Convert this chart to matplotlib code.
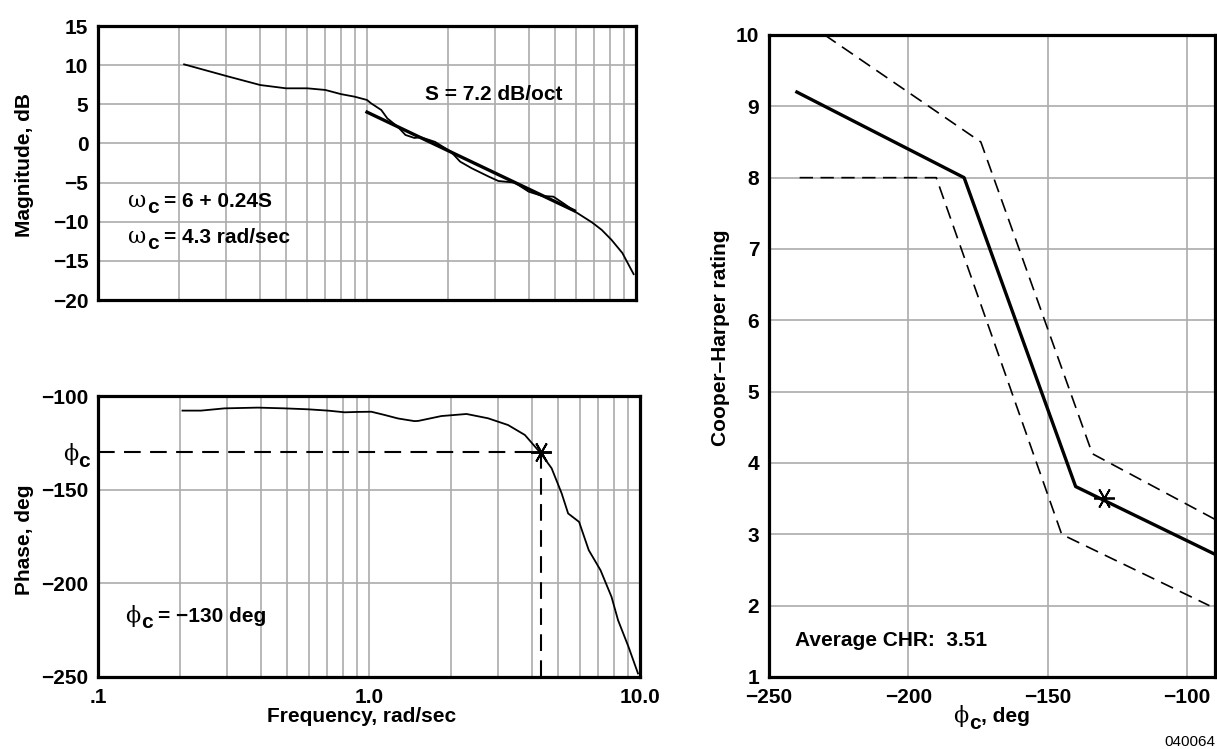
import matplotlib
matplotlib.use('Agg')
import matplotlib.pyplot as plt
from matplotlib.ticker import FixedLocator, FixedFormatter, NullFormatter

plt.rcParams['font.family'] = ['Liberation Sans', 'DejaVu Sans']
plt.rcParams['font.weight'] = 'bold'
plt.rcParams['font.size'] = 15

# ---------------- data ----------------
mag_freq = [0.209, 0.301, 0.401, 0.50, 0.60, 0.70, 0.80, 0.90, 1.0, 1.035, 1.13,
            1.19, 1.30, 1.39, 1.50, 1.59, 1.79, 2.05, 2.22, 2.45, 2.84, 3.08,
            3.54, 3.99, 4.47, 4.93, 5.4, 5.93, 6.87, 7.46, 8.1, 8.9, 9.8]
mag_db = [10.1, 8.6, 7.46, 7.04, 7.04, 6.83, 6.3, 5.97, 5.55, 5.13, 4.27,
          3.2, 2.14, 1.08, 0.7, 0.78, 0.2, -1.05, -2.33, -3.17, -4.25, -4.8,
          -5.0, -6.16, -6.7, -6.8, -7.7, -8.7, -10.1, -11.05, -12.3, -14.0, -16.7]
fit_freq = [1.0, 5.9]
fit_db = [4.0, -8.6]

phase_freq = [0.205, 0.24, 0.293, 0.389, 0.488, 0.595, 0.705, 0.813, 0.91, 1.02,
              1.14, 1.28, 1.47, 1.52, 1.85, 2.29, 2.75, 3.26, 3.76, 4.3, 4.72,
              5.14, 5.43, 5.96, 6.47, 7.15, 7.85, 8.3, 9.07, 9.83]
phase_deg = [-107.8, -107.8, -106.6, -106.2, -106.6, -107.1, -107.8, -108.7, -108.5,
             -108.4, -110.1, -112.0, -113.4, -113.3, -110.7, -109.6, -111.9, -115.5,
             -120.8, -130.5, -138.6, -152.0, -162.7, -167.2, -182.3, -193.0, -207.2,
             -219.7, -233.9, -248.1]
wc = 4.3
phic = -130

chr_mean_phase = [-240, -180, -140, -90]
chr_mean = [9.2, 8.0, 3.67, 2.72]
chr_upper_phase = [-230, -174, -134, -90]
chr_upper = [10.0, 8.5, 4.13, 3.21]
chr_lower_phase = [-239, -190, -145, -92]
chr_lower = [8.0, 8.0, 3.0, 2.0]
avg_phase = -130
avg_chr = 3.51

PHI = '\u03d5'
OMG = '\u03c9'

mag_ticks = [15, 10, 5, 0, -5, -10, -15, -20]
phase_ticks = [-100, phic, -150, -200, -250]
phase_ticklabels = ['\u2212100', '', '\u2212150', '\u2212200', '\u2212250']
freq_ticks = [0.1, 1.0, 10.0]
freq_ticklabels = ['.1', '1.0', '10.0']
freq_grid = [0.2, 0.3, 0.4, 0.5, 0.6, 0.7, 0.8, 0.9, 1.0, 2, 3, 4, 5, 6, 7, 8, 9]
chr_xticks = [-250, -200, -150, -100]
chr_yticks = [1, 2, 3, 4, 5, 6, 7, 8, 9, 10]

# ---------------- figure ----------------
W, H = 1217, 749
fig = plt.figure(figsize=(W / 100, H / 100), dpi=100)
renderer = fig.canvas.get_renderer()


def rect(l, t, r, b):
    return [l / W, 1 - b / H, (r - l) / W, (b - t) / H]


def fp(x, y):
    return (x / W, 1 - y / H)


GRID = '#acacac'
SPW = 2.3
DASH = (0, (8, 4.5))
GREEK = dict(family='DejaVu Serif', weight='normal', size=16)
SUB = dict(weight='bold', size=15)


def style(ax):
    for s in ax.spines.values():
        s.set_linewidth(SPW)
        s.set_zorder(5)
    ax.tick_params(which='both', length=0)
    ax.tick_params(axis='y', pad=7)
    ax.tick_params(axis='x', pad=8)


def minus(v):
    return str(v).replace('-', '\u2212')


def compose(x, y, greek, rest, ha='left', sub_dy=6, gap=0.5, after=0):
    """Greek letter + lowered bold 'c' + remaining text, baseline at pixel y."""
    parts = [(greek, GREEK, 0, gap), ('c', SUB, sub_dy, after)]
    if rest:
        parts.append((rest, {}, 0, 0))
    objs = []
    cur = 0.0
    for s, kw, dy, g in parts:
        t = fig.text(0, 0, s, va='baseline', ha='left', **kw)
        w = t.get_window_extent(renderer).width
        objs.append((t, cur, dy))
        cur += w + g
    total = cur
    x0 = x if ha == 'left' else (x - total if ha == 'right' else x - total / 2)
    for t, off, dy in objs:
        t.set_position(fp(x0 + off, y + dy))


# Magnitude
ax1 = fig.add_axes(rect(98, 26, 636, 300))
ax1.set_xscale('log')
ax1.set_xlim(0.1, 10)
ax1.set_ylim(-20, 15)
ax1.xaxis.set_major_locator(FixedLocator(freq_grid))
ax1.xaxis.set_minor_locator(FixedLocator([]))
ax1.xaxis.set_major_formatter(NullFormatter())
ax1.yaxis.set_major_locator(FixedLocator(mag_ticks))
ax1.yaxis.set_major_formatter(FixedFormatter([minus(v) for v in mag_ticks]))
ax1.grid(True, color=GRID, lw=1.2)
ax1.set_axisbelow(True)
style(ax1)
ax1.plot(mag_freq, mag_db, color='black', lw=1.3)
ax1.plot(fit_freq, fit_db, color='black', lw=2.4)

# Phase
ax2 = fig.add_axes(rect(98, 396, 640, 677))
ax2.set_xscale('log')
ax2.set_xlim(0.1, 10)
ax2.set_ylim(-250, -100)
ax2.xaxis.set_major_locator(FixedLocator(freq_ticks))
ax2.xaxis.set_major_formatter(FixedFormatter(freq_ticklabels))
ax2.xaxis.set_minor_locator(FixedLocator(freq_grid))
ax2.xaxis.set_minor_formatter(NullFormatter())
ax2.yaxis.set_major_locator(FixedLocator(phase_ticks))
ax2.yaxis.set_major_formatter(FixedFormatter(phase_ticklabels))
ax2.grid(True, which='minor', axis='x', color=GRID, lw=1.2)
ax2.grid(True, which='major', axis='x', color=GRID, lw=1.2)
for v in [-150, -200]:
    ax2.axhline(v, color=GRID, lw=1.2, zorder=0)
ax2.set_axisbelow(True)
style(ax2)
ax2.plot(phase_freq, phase_deg, color='black', lw=1.3)
ax2.plot([0.1, wc], [phic, phic], color='black', lw=1.5, linestyle=DASH)
ax2.plot([wc, wc], [phic, -250], color='black', lw=1.5, linestyle=DASH)
ax2.plot([wc], [phic], marker=(6, 2, 90), ms=15, mew=1.4, color='black')

# Cooper-Harper
ax3 = fig.add_axes(rect(769, 35, 1215, 677))
ax3.set_xlim(-250, -90)
ax3.set_ylim(1, 10)
ax3.xaxis.set_major_locator(FixedLocator(chr_xticks))
ax3.xaxis.set_major_formatter(FixedFormatter([minus(v) for v in chr_xticks]))
ax3.yaxis.set_major_locator(FixedLocator(chr_yticks))
ax3.yaxis.set_major_formatter(FixedFormatter([str(v) for v in chr_yticks]))
ax3.grid(True, color=GRID, lw=1.2)
ax3.set_axisbelow(True)
style(ax3)
ax3.plot(chr_mean_phase, chr_mean, color='black', lw=2.4)
ax3.plot(chr_upper_phase, chr_upper, color='black', lw=1.2, linestyle=DASH)
ax3.plot(chr_lower_phase, chr_lower, color='black', lw=1.2, linestyle=DASH)
ax3.plot([avg_phase], [avg_chr], marker=(6, 2, 90), ms=15, mew=1.3, color='black')

# ---------------- texts ----------------
fig.text(*fp(24, 165), 'Magnitude, dB', rotation=90, ha='center', va='center')
fig.text(*fp(24, 540), 'Phase, deg', rotation=90, ha='center', va='center')
fig.text(*fp(721, 338), 'Cooper\u2013Harper rating', rotation=90, ha='center', va='center')
fig.text(*fp(362, 722), 'Frequency, rad/sec', ha='center', va='baseline')
compose(953, 722, PHI, ', deg', sub_dy=7, after=1)
fig.text(*fp(425, 100), 'S = 7.2 dB/oct', ha='left', va='baseline')
compose(128, 207, OMG, '= 6 + 0.24S', after=6)
compose(128, 243, OMG, '= 4.3 rad/sec', after=6)
compose(125, 622, PHI, '= \u2212130 deg', after=6)
compose(90, 460, PHI, '', ha='right', sub_dy=7)
fig.text(*fp(795, 646), 'Average CHR:  3.51', ha='left', va='baseline')
fig.text(*fp(1215, 746), '040064', ha='right', va='baseline', fontsize=11, fontweight='normal')

fig.savefig('out.png', dpi=100)
